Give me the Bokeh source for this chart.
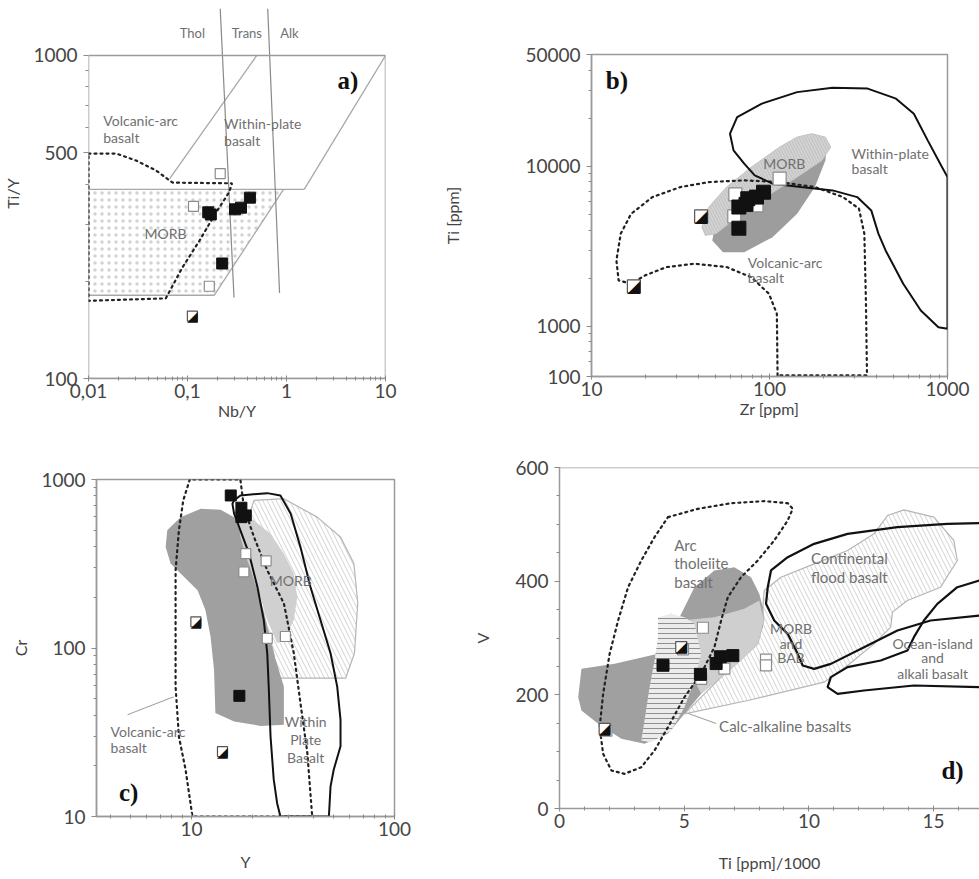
from bokeh.plotting import figure
from bokeh.layouts import column, row
from bokeh.models import FixedTicker, Range1d, CustomJSTickFormatter
from bokeh.embed import file_html
from bokeh.resources import INLINE
from bokeh.core.properties import value

FONT = "Lato"
AXIS_GREY = "#9a9a9a"
LABEL_GREY = "#454545"
TEXT_GREY = "#707070"

# ---------------- a) Ti/Y vs Nb/Y ----------------
A_XLIM = [0.01, 10]
A_YLIM = [100, 1000]
A_BOX_X = [0.01, 10, 10, 0.01, 0.01]
A_BOX_Y = [100, 100, 1000, 1000, 100]
A_TOP = 1398  # room above the box for the Thol/Trans/Alk dividers

A_DIV1_X = [0.214, 0.295]
A_DIV1_Y = [1398, 178]
A_DIV2_X = [0.646, 0.851]
A_DIV2_Y = [1398, 184]

A_WPB_LEFT_X = [0.0661, 0.501]
A_WPB_LEFT_Y = [416, 1000]
A_WPB_RIGHT_X = [10, 1.51]
A_WPB_RIGHT_Y = [1000, 385]
A_MORB_TOP_X = [0.01, 1.51]
A_MORB_TOP_Y = [385, 385]
A_MORB_BOT_X = [0.01, 0.186, 0.933]
A_MORB_BOT_Y = [181, 181, 385]
A_MORB_X = [0.01, 0.933, 0.186, 0.01]
A_MORB_Y = [385, 385, 181, 181]

A_VAB_X = [0.01, 0.0191, 0.0302, 0.0479, 0.0708, 0.282, 0.263, 0.191, 0.132, 0.0891, 0.0603, 0.01, 0.01]
A_VAB_Y = [497, 497, 473, 441, 404, 402, 377, 324, 267, 221, 177, 174, 497]

A_FILLED_X = [0.162, 0.172, 0.302, 0.347, 0.427, 0.224]
A_FILLED_Y = [327, 322, 334, 338, 363, 227]
A_OPEN_X = [0.214, 0.115, 0.166]
A_OPEN_Y = [431, 341, 193]
A_HALF_X = [0.112]
A_HALF_Y = [156]

A_TXT_X = [0.0141, 0.0141, 0.234, 0.234]
A_TXT_Y = [629, 557, 616, 546]
A_TXT = ["Volcanic-arc", "basalt", "Within-plate", "basalt"]
A_MORB_TXT_X = [0.060]
A_MORB_TXT_Y = [281]
A_MORB_TXT = ["MORB"]
A_HEAD_X = [0.112, 0.398, 1.07]
A_HEAD_Y = [1178, 1178, 1178]
A_HEAD = ["Thol", "Trans", "Alk"]

# ---------------- b) Ti vs Zr ----------------
B_XLIM = [10, 1000]
B_YLIM = [487, 50000]
B_WPB_ZR = [1000, 931, 774, 647, 514, 356, 226, 143, 90.6, 65.8, 60.0, 62.8, 72.1, 82.6, 104, 150, 226,
            311, 373, 409, 449, 564, 708, 889, 1000, 1000]
B_WPB_TI = [8570, 9900, 14540, 21330, 26490, 30620, 31040, 29100, 24660, 20320, 16000, 12590, 10400, 8790,
            7800, 7430, 7080, 6430, 5310, 3800, 2985, 1848, 1259, 990, 968, 8570]
B_VAB_ZR = [111, 110, 99.3, 79.1, 57.4, 38.0, 26.4, 20.0, 16.7, 14.2, 13.8, 14.6, 16.7, 22.0, 31.6, 45.6,
            72.1, 114, 180, 259, 318, 341, 348, 353, 111]
B_VAB_TI = [495, 1200, 1600, 2030, 2350, 2465, 2350, 2085, 1848, 1940, 2585, 3800, 5060, 6430, 7430, 7980,
            8180, 7980, 7430, 6430, 5450, 3800, 1454, 495, 495]
B_DARK_ZR = [180, 211, 206, 180, 143, 104, 72.1, 54.8, 47.7, 50.0, 60.0, 79.1, 109, 143]
B_DARK_TI = [16000, 13860, 10900, 7430, 5060, 3615, 2910, 2910, 3450, 4600, 6130, 8570, 11430, 14540]
B_LIGHT_ZR = [172, 206, 221, 197, 143, 94.9, 65.8, 50.0, 43.6, 41.7, 45.6, 57.4, 79.1, 114, 143]
B_LIGHT_TI = [16000, 15240, 13210, 10900, 8570, 6430, 4820, 3800, 3707, 4180, 5570, 7430, 9900, 13210, 15240]

B_FILLED_ZR = [67.3, 75.5, 84.5, 92.6, 67.3, 73.8]
B_FILLED_TI = [5575, 6280, 6430, 6900, 4110, 5790]
B_OPEN_ZR = [64.3, 84.5, 114, 63.4]
B_OPEN_TI = [6680, 5700, 8380, 4870]
B_HALF_ZR = [41.3, 17.3]
B_HALF_TI = [4870, 1778]

B_TXT_X = [121, 289, 289, 75.5, 75.5]
B_TXT_Y = [10440, 12050, 9720, 2512, 2024]
B_TXT = ["MORB", "Within-plate", "basalt", "Volcanic-arc", "basalt"]

# ---------------- c) Cr vs Y ----------------
C_XLIM = [3.4, 100]
C_YLIM = [10, 1000]
C_VAB_Y = [9.8, 9.1, 8.66, 8.34, 8.34, 8.34, 8.66, 9.34, 10.1, 39.3, 37.2, 34.4, 31.9, 28.5, 23.6, 20.3, 18.1, 17.4, 9.8]
C_VAB_CR = [1000, 752, 499, 289, 146, 59.0, 29.8, 19.0, 10, 10, 23.8, 47.1, 93.0, 184, 289, 456, 685, 1000, 1000]
C_WPB_Y = [16.2, 17.4, 23.6, 27.4, 30.8, 34.4, 38.5, 43.2, 48.4, 52.2, 54.2, 54.2, 50.2, 48.4, 47.5, 27.4,
           26.4, 25.4, 24.5, 24.0, 23.6, 22.7, 21.1, 19.2, 17.4, 16.2, 15.9, 16.2]
C_WPB_CR = [752, 804, 830, 804, 627, 397, 231, 146, 93, 59.0, 37.5, 26.1, 19.0, 15.1, 10, 10,
            12.0, 16.6, 29.8, 59.0, 93, 146, 231, 363, 499, 627, 718, 752]
C_DARK_Y = [11.1, 8.83, 7.59, 7.45, 7.88, 8.83, 10.7, 11.7, 12.4, 12.9, 13.1, 16.2, 21.9, 28.5, 28.5, 25.4,
            22.7, 19.6, 17.8, 16.2, 13.9]
C_DARK_CR = [671, 598, 499, 397, 317, 277, 220, 168, 117, 74.2, 41.1, 36.6, 34.5, 35.0, 59, 93,
             160, 289, 456, 598, 662]
C_LIGHT_Y = [16.8, 20.3, 24.5, 28.5, 31.9, 33.2, 31.9, 28.5, 26.4, 23.6, 21.1, 18.8, 17.4]
C_LIGHT_CR = [656, 572, 477, 363, 277, 201, 146, 111, 107, 146, 231, 332, 456]
C_MORB_Y = [20.3, 28.5, 41.6, 54.2, 63.1, 65.9, 63.5, 57.4, 26.4, 25.4, 22.7, 19.6, 17.8, 20.3]
C_MORB_CR = [752, 769, 598, 456, 317, 184, 93, 66.2, 66.2, 93, 160, 289, 456, 752]

C_FILLED_Y = [15.6, 17.6, 18.5, 17.6, 17.2]
C_FILLED_CR = [804, 680, 612, 598, 52.0]
C_OPEN_Y = [18.5, 23.3, 18.1, 23.6, 29.0]
C_OPEN_CR = [363, 329, 283, 114, 117]
C_HALF_Y = [10.5, 14.2]
C_HALF_CR = [143, 24.3]

C_LEAD_X = [4.84, 8.15]
C_LEAD_Y = [40.2, 51.3]
C_TXT_X = [30.8, 3.99, 3.99]
C_TXT_Y = [253, 31.8, 25.6]
C_TXT = ["MORB", "Volcanic-arc", "basalt"]
C_WPB_TXT_X = [36.5, 36.5, 36.5]
C_WPB_TXT_Y = [36.5, 28.6, 22.3]
C_WPB_TXT = ["Within", "Plate", "Basalt"]

# ---------------- d) V vs Ti/1000 ----------------
D_XLIM = [0, 16.84]
D_YLIM = [0, 600]
D_ARC_X = [4.35, 5.55, 6.88, 8.21, 9.15, 9.35, 9.15, 8.61, 7.95, 7.28, 6.75, 6.48, 6.21, 5.68, 5.01, 4.35,
           3.81, 3.28, 2.61, 2.08, 1.75, 1.61, 1.75, 2.01, 2.35, 2.75, 3.28, 3.81, 4.35]
D_ARC_V = [512.6, 527.3, 537.2, 540.8, 537.2, 527.3, 506.7, 471.6, 436.4, 407.0, 371.8, 330.8, 283.9, 237.0,
           195.9, 143.1, 102.1, 72.7, 61.0, 66.9, 96.2, 143.1, 201.8, 272.1, 330.8, 389.4, 436.4, 477.4, 512.6]
D_DARK_X = [0.75, 0.88, 2.21, 3.95, 4.75, 5.41, 6.21, 7.01, 7.68, 8.01, 8.15, 8.15, 7.81, 7.28, 6.48, 5.68,
            5.01, 4.35, 3.41, 2.48, 1.55, 0.88]
D_DARK_V = [195.9, 245.7, 254.5, 272.1, 330.8, 389.4, 418.8, 424.6, 407.0, 377.7, 354.3, 319.1, 283.9, 260.4,
            231.1, 201.8, 166.6, 131.4, 113.8, 122.6, 149.0, 172.4]
D_LIGHT_X = [4.88, 6.21, 7.41, 8.01, 8.19, 7.95, 7.28, 6.48, 5.68, 5.41, 5.15]
D_LIGHT_V = [330.8, 336.7, 351.3, 366.0, 330.8, 289.7, 260.4, 231.1, 201.8, 225.2, 272.1]
D_CALC_X = [3.95, 4.48, 5.01, 5.41, 5.68, 5.41, 5.01, 4.48, 3.68, 3.28, 3.41, 3.61, 3.81, 3.95]
D_CALC_V = [336.7, 342.5, 336.7, 324.9, 272.1, 225.2, 178.3, 137.2, 116.7, 119.6, 154.8, 213.5, 260.4, 301.5]
D_MORB_X = [5.01, 7.55, 10.61, 11.55, 12.61, 13.28, 13.35, 13.95, 15.28, 15.95, 15.81, 15.01, 13.81, 13.15,
            12.61, 11.55, 10.21, 8.88, 8.21, 8.15, 8.19, 7.95, 6.48, 5.01]
D_MORB_V = [166.6, 190.0, 222.3, 251.6, 289.7, 319.1, 345.5, 366.0, 389.4, 436.4, 471.6, 512.6, 525.5, 515.5,
            483.3, 454.0, 430.5, 407.0, 383.6, 354.3, 330.8, 289.7, 231.1, 166.6]
D_CFB_X = [18.0, 16.84, 15.55, 13.55, 11.55, 10.21, 9.15, 8.48, 8.35, 8.28, 8.61, 9.15, 9.55, 9.75, 10.21,
           10.88, 12.21, 13.55, 14.88, 16.84, 18.0]
D_CFB_V = [502.1, 502.1, 500.9, 495.0, 483.3, 465.7, 442.2, 418.8, 389.4, 360.1, 330.8, 307.3, 272.1, 251.6,
           245.7, 254.5, 283.9, 313.2, 330.8, 339.6, 339.6]
D_OIB_X = [18.0, 16.84, 15.95, 15.15, 14.61, 14.21, 13.95, 12.88, 11.55, 10.88, 10.75, 11.15, 12.21, 14.21,
           16.84, 18.0]
D_OIB_V = [401.2, 401.2, 389.4, 360.1, 330.8, 301.5, 278.0, 260.4, 248.7, 231.1, 213.5, 201.8, 207.6, 216.4,
           213.5, 213.5]

D_FILLED_X = [4.15, 5.65, 6.28, 6.45, 6.95]
D_FILLED_V = [252, 236, 255, 267, 269]
D_OPEN_X = [5.75, 6.61, 8.28, 8.28, 1.88, 5.68, 4.95]
D_OPEN_V = [318, 246, 262, 252, 137, 228, 280]
D_HALF_X = [1.81, 4.88]
D_HALF_V = [140, 284]

D_LEAD_X = [5.16, 6.28]
D_LEAD_Y = [167.2, 149.6]
D_TXT_X = [4.6, 4.6, 4.6, 10.08, 10.08, 6.4]
D_TXT_Y = [462.8, 431.1, 399.4, 439.9, 406.5, 144.3]
D_TXT = ["Arc", "tholeiite", "basalt", "Continental", "flood basalt", "Calc-alkaline basalts"]
D_CTXT_X = [9.28, 9.28, 9.28, 14.96, 14.96, 14.96]
D_CTXT_Y = [316.7, 290.3, 265.7, 290.3, 265.7, 237.5]
D_CTXT = ["MORB", "and", "BAB", "Ocean-island", "and", "alkali basalt"]

PANEL_TAGS = ["a)", "b)", "c)", "d)"]


def make_fig(width, height, borders, xr, yr, x_type="log", y_type="log"):
    p = figure(width=width, height=height, x_axis_type=x_type, y_axis_type=y_type,
               x_range=Range1d(*xr), y_range=Range1d(*yr),
               min_border_left=borders[0], min_border_right=borders[1],
               min_border_top=borders[2], min_border_bottom=borders[3],
               output_backend="svg", toolbar_location=None)
    p.grid.visible = False
    p.outline_line_color = AXIS_GREY
    p.outline_line_width = 1.5
    for ax in (p.xaxis[0], p.yaxis[0]):
        ax.axis_line_color = AXIS_GREY
        ax.axis_line_width = 1.5
        ax.major_tick_line_color = "#8a8a8a"
        ax.minor_tick_line_color = "#8a8a8a"
        ax.major_label_text_font = FONT
        ax.major_label_text_font_size = "19px"
        ax.major_label_text_color = LABEL_GREY
        ax.axis_label_text_font = FONT
        ax.axis_label_text_font_size = "16px"
        ax.axis_label_text_font_style = "normal"
        ax.axis_label_text_color = LABEL_GREY
    xa, ya = p.xaxis[0], p.yaxis[0]
    xa.major_tick_in, xa.major_tick_out = 3, 3
    xa.minor_tick_in, xa.minor_tick_out = 2, 2
    xa.major_label_standoff = 2
    xa.axis_label_standoff = 0
    ya.major_tick_in, ya.major_tick_out = 0, 5
    ya.minor_tick_in, ya.minor_tick_out = 0, 3
    ya.major_label_standoff = 6
    ya.axis_label_standoff = 8
    return p


def notes(p, xs, ys, texts, size="14px", align="left", color=TEXT_GREY):
    p.text(x=xs, y=ys, text=texts, text_font=value(FONT), text_font_size=value(size),
           text_color=color, text_align=align, text_baseline="middle")


def tag(p, x, y, label):
    p.text(x=[x], y=[y], text=[label], text_font=value("Liberation Serif"),
           text_font_size=value("25px"), text_font_style="bold", text_color="#111111",
           text_align="center", text_baseline="middle")


def samples(p, fx, fy, ox, oy, hx, hy, size):
    p.scatter(ox, oy, marker="square", size=size, fill_color="white", line_color="#8c8c8c", line_width=1.2)
    p.scatter(fx, fy, marker="square", size=size + 1, fill_color="#111111", line_color="#111111")
    p.scatter(hx, hy, marker="square", size=size, fill_color="white", line_color="#555555", line_width=1.2)
    p.text(x=hx, y=hy, text=["\u25e2"] * len(hx), text_font=value("DejaVu Sans"),
           text_font_size=value(f"{size + 4}px"), text_color="#111111",
           text_align="center", text_baseline="middle")


def dotted(p, xs, ys):
    p.line(xs, ys, line_color="#222222", line_width=2.2, line_dash="2 4", line_cap="round")


def log_minor(decades):
    out = []
    for d in decades:
        out += [k * d for k in range(2, 10)]
    return out


# ---- panel a ----
pa = make_fig(440, 440, (85, 55, 8, 62), A_XLIM, (A_YLIM[0], A_TOP))
pa.outline_line_color = None
pa.yaxis[0].axis_line_color = None
pa.xaxis.ticker = FixedTicker(ticks=[0.01, 0.1, 1, 10], minor_ticks=log_minor([0.01, 0.1, 1]))
pa.yaxis.ticker = FixedTicker(ticks=[100, 500, 1000], minor_ticks=log_minor([100]))
pa.xaxis.formatter = CustomJSTickFormatter(code="return String(tick).replace('.', ',')")
pa.yaxis.formatter = CustomJSTickFormatter(code="return tick.toFixed(0)")
pa.xaxis.axis_label = "Nb/Y"
pa.yaxis.axis_label = "Ti/Y"
pa.patch(A_MORB_X, A_MORB_Y, fill_color="white", line_color=None,
         hatch_pattern=".", hatch_color="#d2d2d2", hatch_scale=7, hatch_weight=1.0)
for xs, ys in [(A_WPB_LEFT_X, A_WPB_LEFT_Y), (A_WPB_RIGHT_X, A_WPB_RIGHT_Y),
               (A_MORB_TOP_X, A_MORB_TOP_Y), (A_MORB_BOT_X, A_MORB_BOT_Y)]:
    pa.line(xs, ys, line_color="#a8a8a8", line_width=1.3)
pa.line(A_DIV1_X, A_DIV1_Y, line_color="#8a8a8a", line_width=1.2)
pa.line(A_DIV2_X, A_DIV2_Y, line_color="#8a8a8a", line_width=1.2)
pa.line(A_BOX_X, A_BOX_Y, line_color=AXIS_GREY, line_width=1.5)
dotted(pa, A_VAB_X, A_VAB_Y)
samples(pa, A_FILLED_X, A_FILLED_Y, A_OPEN_X, A_OPEN_Y, A_HALF_X, A_HALF_Y, 10)
notes(pa, A_TXT_X, A_TXT_Y, A_TXT)
notes(pa, A_MORB_TXT_X, A_MORB_TXT_Y, A_MORB_TXT, align="center")
notes(pa, A_HEAD_X, A_HEAD_Y, A_HEAD, size="13px", align="center")
tag(pa, 4.17, 836, PANEL_TAGS[0])

# ---- panel b ----
pb = make_fig(539, 440, (147, 32, 54, 64), B_XLIM, B_YLIM)
pb.yaxis[0].axis_label_standoff = 60
pb.xaxis.ticker = FixedTicker(ticks=[10, 100, 1000], minor_ticks=log_minor([10, 100]))
pb.yaxis.ticker = FixedTicker(ticks=[487, 1000, 10000, 50000],
                              minor_ticks=[600, 700, 800, 900] + log_minor([1000]) + [20000, 30000, 40000])
pb.xaxis.formatter = CustomJSTickFormatter(code="return tick.toFixed(0)")
pb.yaxis.formatter = CustomJSTickFormatter(code="return tick < 900 ? '100' : tick.toFixed(0)")
pb.xaxis.axis_label = "Zr [ppm]"
pb.yaxis.axis_label = "Ti [ppm]"
pb.patch(B_DARK_ZR, B_DARK_TI, fill_color="#9d9d9d", line_color=None)
pb.patch(B_LIGHT_ZR, B_LIGHT_TI, fill_color="#d2d2d2", line_color="#c4c4c4", line_width=1,
         hatch_pattern="\\", hatch_color="#bdbdbd", hatch_scale=6, hatch_weight=0.8)
dotted(pb, B_VAB_ZR, B_VAB_TI)
pb.line(B_WPB_ZR, B_WPB_TI, line_color="#111111", line_width=2)
samples(pb, B_FILLED_ZR, B_FILLED_TI, B_OPEN_ZR, B_OPEN_TI, B_HALF_ZR, B_HALF_TI, 13)
notes(pb, B_TXT_X[:1], B_TXT_Y[:1], B_TXT[:1], align="center")
notes(pb, B_TXT_X[1:], B_TXT_Y[1:], B_TXT[1:])
tag(pb, 13.9, 34480, PANEL_TAGS[1])

# ---- panel c ----
pc = make_fig(470, 439, (96, 76, 39, 63), C_XLIM, C_YLIM)
pc.xaxis[0].axis_label_standoff = 13
pc.xaxis.ticker = FixedTicker(ticks=[10, 100], minor_ticks=[4, 5, 6, 7, 8, 9] + log_minor([10]))
pc.yaxis.ticker = FixedTicker(ticks=[10, 100, 1000], minor_ticks=log_minor([10, 100]))
pc.xaxis.formatter = CustomJSTickFormatter(code="return tick.toFixed(0)")
pc.yaxis.formatter = CustomJSTickFormatter(code="return tick.toFixed(0)")
pc.xaxis.axis_label = "Y"
pc.yaxis.axis_label = "Cr"
pc.patch(C_MORB_Y, C_MORB_CR, fill_color="white", line_color="#b5b5b5", line_width=1.2,
         hatch_pattern="\\", hatch_color="#c8c8c8", hatch_scale=9, hatch_weight=0.8)
pc.patch(C_DARK_Y, C_DARK_CR, fill_color="#a0a0a0", line_color=None)
pc.patch(C_LIGHT_Y, C_LIGHT_CR, fill_color="#d0d0d0", line_color=None)
dotted(pc, C_VAB_Y, C_VAB_CR)
pc.line(C_WPB_Y, C_WPB_CR, line_color="#111111", line_width=2)
pc.line(C_LEAD_X, C_LEAD_Y, line_color="#9a9a9a", line_width=1)
samples(pc, C_FILLED_Y, C_FILLED_CR, C_OPEN_Y, C_OPEN_CR, C_HALF_Y, C_HALF_CR, 10)
notes(pc, C_TXT_X[:1], C_TXT_Y[:1], C_TXT[:1], align="center")
notes(pc, C_TXT_X[1:], C_TXT_Y[1:], C_TXT[1:])
notes(pc, C_WPB_TXT_X, C_WPB_TXT_Y, C_WPB_TXT, align="center")
tag(pc, 4.9, 13.9, PANEL_TAGS[2])

# ---- panel d ----
pd = make_fig(509, 439, (88, 0, 27, 71), D_XLIM, D_YLIM, x_type="linear", y_type="linear")
pd.outline_line_color = None
pd.xaxis[0].axis_label_standoff = 22
pd.yaxis[0].axis_label_standoff = 20
pd.xaxis.ticker = FixedTicker(ticks=[0, 5, 10, 15], minor_ticks=list(range(0, 17)))
pd.yaxis.ticker = FixedTicker(ticks=[0, 200, 400, 600], minor_ticks=list(range(0, 601, 50)))
pd.xaxis.axis_label = "Ti [ppm]/1000"
pd.yaxis.axis_label = "V"
pd.line(D_XLIM, [D_YLIM[1], D_YLIM[1]], line_color=AXIS_GREY, line_width=1.5)
pd.patch(D_MORB_X, D_MORB_V, fill_color="white", line_color="#b5b5b5", line_width=1.2,
         hatch_pattern="\\", hatch_color="#c8c8c8", hatch_scale=9, hatch_weight=0.8)
pd.patch(D_DARK_X, D_DARK_V, fill_color="#a0a0a0", line_color=None)
pd.patch(D_LIGHT_X, D_LIGHT_V, fill_color="#cfcfcf", line_color=None)
pd.patch(D_CALC_X, D_CALC_V, fill_color="#ececec", line_color=None,
         hatch_pattern="-", hatch_color="#777777", hatch_scale=5, hatch_weight=0.8)
dotted(pd, D_ARC_X, D_ARC_V)
pd.line(D_CFB_X, D_CFB_V, line_color="#111111", line_width=2.2)
pd.line(D_OIB_X, D_OIB_V, line_color="#111111", line_width=2.2)
pd.line(D_LEAD_X, D_LEAD_Y, line_color="#9a9a9a", line_width=1)
samples(pd, D_FILLED_X, D_FILLED_V, D_OPEN_X, D_OPEN_V, D_HALF_X, D_HALF_V, 11)
notes(pd, D_TXT_X, D_TXT_Y, D_TXT, size="15px")
notes(pd, D_CTXT_X, D_CTXT_Y, D_CTXT, size="14px", align="center")
tag(pd, 15.76, 66.9, PANEL_TAGS[3])

# each figure sits in its own column so that its borders are kept as given
layout = column(row(column(pa), column(pb)), row(column(pc), column(pd)))
open("out.html", "w").write(file_html(layout, INLINE))
